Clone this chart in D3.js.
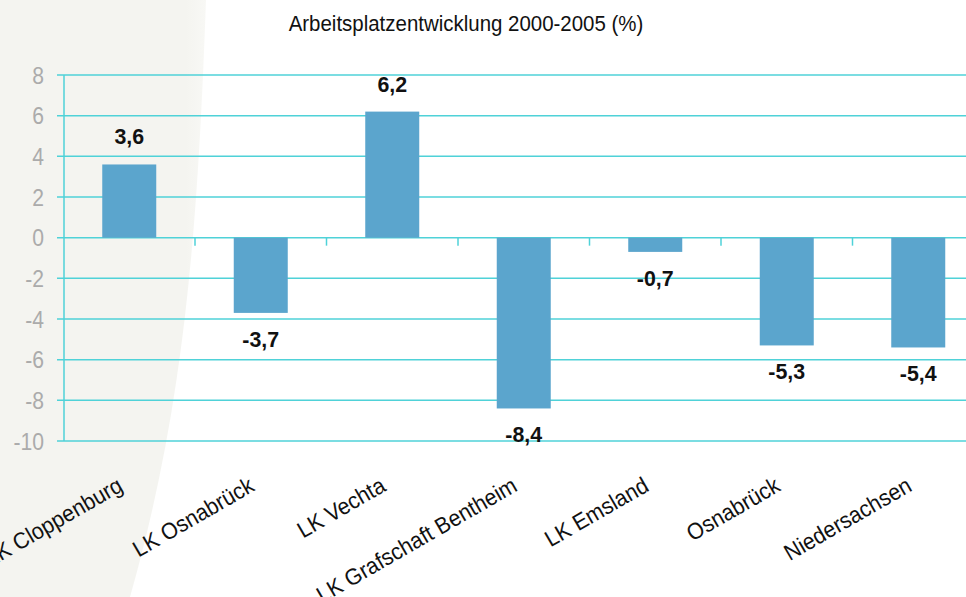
<!DOCTYPE html>
<html><head><meta charset="utf-8">
<script src="https://cdn.jsdelivr.net/npm/d3@7"></script>
<style>
html,body{margin:0;padding:0;background:#fff;}
svg{display:block;}
text{font-family:'Liberation Sans',Arial,sans-serif;}
</style></head>
<body>
<svg id="chart" width="966" height="597"></svg>
<script>
const title = "Arbeitsplatzentwicklung 2000-2005 (%)";
const categories = ["LK Cloppenburg","LK Osnabrück","LK Vechta","LK Grafschaft Bentheim","LK Emsland","Osnabrück","Niedersachsen"];
const values = [3.6, -3.7, 6.2, -8.4, -0.7, -5.3, -5.4];
const yTicks = [8, 6, 4, 2, 0, -2, -4, -6, -8, -10];

const svg = d3.select("#chart");
const W = 966, H = 597;
const NARROW = 0.93;
const NARROW_TICK = 0.88;

// background decorative shape
svg.append("rect").attr("width", W).attr("height", H).attr("fill", "#ffffff");
const defs = svg.append("defs");
const grad = defs.append("linearGradient").attr("id","bgfade").attr("x1","0").attr("x2","1");
grad.append("stop").attr("offset","0.9").attr("stop-color","#f4f4f0");
grad.append("stop").attr("offset","1").attr("stop-color","#f8f8f5");
svg.append("path")
  .attr("d","M0,0 L206,0 C198,220 186,400 130,597 L0,597 Z")
  .attr("fill","url(#bgfade)");

const x = d3.scaleBand().domain(categories).range([63.5, 984]).paddingInner(0).paddingOuter(0);
const y = d3.scaleLinear().domain([-10, 8]).range([441, 75]);
const barW = 54;
const gridColor = "#4fd2d8";

// title
svg.append("text").attr("transform", `translate(466,31) scale(${NARROW},1)`).attr("text-anchor","middle")
  .attr("font-size", 22).attr("fill","#111").text(title);

// grid lines
svg.append("g").selectAll("line").data(yTicks).join("line")
  .attr("x1", 57).attr("x2", W)
  .attr("y1", d => y(d)).attr("y2", d => y(d))
  .attr("stroke", gridColor).attr("stroke-width", 1.5);

// y axis line
svg.append("line").attr("x1", 64).attr("x2", 64).attr("y1", y(8)).attr("y2", y(-10))
  .attr("stroke", gridColor).attr("stroke-width", 1.5);

// y tick labels
svg.append("g").selectAll("text").data(yTicks).join("text")
  .attr("transform", d => `translate(44,${y(d)}) scale(${NARROW_TICK},1)`).attr("dy", "0.36em")
  .attr("text-anchor","end").attr("font-size", 24).attr("fill","#ababab")
  .text(d => d);

// category ticks at zero line
const catTicks = categories.slice(1).map(c => x(c));
svg.append("g").selectAll("line").data(catTicks).join("line")
  .attr("x1", d => d).attr("x2", d => d)
  .attr("y1", y(0)).attr("y2", y(0) + 8)
  .attr("stroke", gridColor).attr("stroke-width", 1.5);

// bars
svg.append("g").selectAll("rect").data(values).join("rect")
  .attr("x", (d,i) => x(categories[i]) + x.bandwidth()/2 - barW/2)
  .attr("width", barW)
  .attr("y", d => y(Math.max(0, d)))
  .attr("height", d => Math.abs(y(d) - y(0)))
  .attr("fill", "#5ba5cd");

// value labels
svg.append("g").selectAll("text").data(values).join("text")
  .attr("transform", (d,i) => `translate(${x(categories[i]) + x.bandwidth()/2},${d >= 0 ? y(d) - 20 : y(d) + 34}) scale(${NARROW},1)`)
  .attr("text-anchor","middle").attr("font-size", 23).attr("font-weight","bold")
  .attr("fill","#111")
  .text(d => d3.format(".1f")(d).replace(".", ",").replace("−","-"));

// category labels
svg.append("g").selectAll("text").data(categories).join("text")
  .attr("transform", d => `translate(${x(d) + x.bandwidth()/2 - 5},490) rotate(-30) scale(${NARROW},1)`)
  .attr("text-anchor","end").attr("font-size", 23).attr("fill","#111")
  .text(d => d);
</script>
</body></html>
